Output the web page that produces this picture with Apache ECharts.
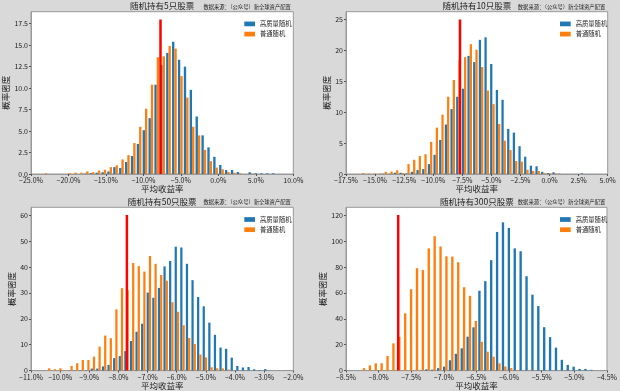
<!DOCTYPE html>
<html><head><meta charset="utf-8">
<script src="https://cdn.jsdelivr.net/npm/echarts@6/dist/echarts.min.js"></script>
<style>html,body{margin:0;padding:0;background:#d9d9d9}#c{width:620px;height:391px}</style>
</head><body><div id="c"></div><script>
// ---- data ----
const seriesNames = ['高质量随机', '普通随机'];
const titles = ['随机持有5只股票', '随机持有10只股票', '随机持有50只股票', '随机持有300只股票'];
const sourceText = '数据来源：（公众号）新全球资产配置';
const xLabel = '平均收益率';
const yLabel = '概率密度';

// histogram bins (percent): start of first bin and bin width, 40 bins each
const binStarts = [-23.53, -16.36, -10.509, -8.2876];
const binWidths = [0.785, 0.487, 0.1921, 0.09027];

const p1Blue = [0,0,0,0,0,0,0,0.05,0.1,0.15,0.2,0.3,0.8,0.7,1.4,2.1,3.5,5.1,6.5,10.4,12.7,14.1,15.4,13.3,12.5,9.8,6.7,4.5,3.1,2.0,1.05,0.46,0.46,0.23,0,0.2,0.08,0.08,0.08,0.08];
const p1Orange = [0.08,0,0,0,0.1,0.15,0.15,0.3,0.2,0.4,0.5,0.8,1.0,1.7,2.2,3.6,5.5,7.6,10.4,13.6,13.7,14.9,14.6,11.4,8.9,5.5,4.5,2.8,1.5,0.75,0.55,0.23,0.15,0.08,0,0.05,0,0,0,0];

const p2Blue = [0,0,0,0,0.05,0.05,0.2,0.2,0.1,0.35,0.65,0.8,1.6,3.1,5.5,8.0,10.5,12.5,13.8,19.1,18.1,21.7,22.1,17.8,13.6,12.0,7.3,6.7,4.5,2.8,1.35,1.25,0.35,0.15,0.27,0.05,0,0,0,0.1];
const p2Orange = [0.16,0.08,0.08,0.08,0.35,0.4,0.6,0.15,1.6,2.3,2.9,3.2,5.2,7.5,9.6,12.5,15.2,18.4,18.9,21.0,20.1,17.3,13.5,11.3,8.1,5.4,3.9,2.1,2.0,0.7,0.5,0.5,0.15,0.1,0.1,0,0,0,0,0];

const p3Blue = [0,0,0,0,0.1,0.1,0.2,0.2,0.8,0.8,1.6,2.2,4.8,5.6,7.5,11.4,15.0,18.1,30.1,28.1,31.9,40.2,42.3,47.8,47.5,41.2,34.9,28.4,24.8,18.5,13.8,8.9,8.4,5.0,1.8,1.2,1.4,0.5,0.2,0.6];
const p3Orange = [0.9,0.5,0.9,0.2,1.8,2.85,4.1,4.1,5.4,9.25,13.5,12.5,23.6,31.8,31.0,41.5,40.3,38.2,44.2,41.2,36.9,34.7,26.4,22.7,17.5,12.6,10.3,6.2,5.1,1.3,0.9,0.85,0.4,0,0,0,0,0,0,0];

const p4Blue = [0,0,0,0,0,0,0,0,0,0,0,1.0,0.8,1.9,3.1,8.0,13.0,17.2,26.2,33.4,61.6,69.0,85.2,107.0,114.4,110.1,94.3,92.1,72.8,58.6,49.8,33.5,25.8,17.7,8.3,4.4,3.0,1.3,1.3,0.6];
const p4Orange = [1.9,4.0,5.6,5.7,11.3,21.0,26.0,44.2,62.8,79.0,77.6,94.3,103.7,95.8,88.2,88.0,83.6,64.3,57.7,38.3,22.2,14.6,10.7,5.6,3.2,1.9,0.45,0,0.5,0,0,0,0,0,0,0,0,0,0,0];

const blueData = [p1Blue, p2Blue, p3Blue, p4Blue];
const orangeData = [p1Orange, p2Orange, p3Orange, p4Orange];

// red marker line (percent) and its height
const redX = [-7.72, -7.70, -7.71, -7.70];
const redH = [18, 25, 60, 120];

// axis ticks
const xTicks = [
  [-25,-20,-15,-10,-5,0,5,10],
  [-17.5,-15,-12.5,-10,-7.5,-5,-2.5,0,2.5,5],
  [-11,-10,-9,-8,-7,-6,-5,-4,-3,-2],
  [-8.5,-8,-7.5,-7,-6.5,-6,-5.5,-5,-4.5]
];
const yTicks = [
  [0,2.5,5,7.5,10,12.5,15,17.5],
  [0,5,10,15,20,25],
  [0,10,20,30,40,50,60],
  [0,20,40,60,80,100,120]
];
const yDecimals = [1,0,0,0];
const yMax = [18.9, 26.25, 63, 126];

// ---- layout ----
const FONT = '"Noto Sans CJK SC", "Noto Sans", sans-serif';
const BLUE = '#1f77b4', ORANGE = '#ff7f0e', RED = '#ff0000';
const grids = [
  {left:31, top:11.7, width:262.3, height:162.3},
  {left:346, top:11.7, width:261.7, height:162.3},
  {left:31, top:207.3, width:262.3, height:163.4},
  {left:346, top:207.3, width:261.7, height:163.4}
];
const yNameGaps = [20, 13, 13, 16.5];

function fmtX(v){ return (v < 0 ? '\u2212' : '') + Math.abs(v).toFixed(1) + '%'; }

function barSeries(gi, values, slot, color, name){
  const bs = binStarts[gi], bw = binWidths[gi];
  return {
    type:'custom', name, xAxisIndex:gi, yAxisIndex:gi, animation:false,
    itemStyle:{color},
    encode:{x:0, y:1},
    data: values.map((v,k)=>[bs + k*bw, v]),
    renderItem: (params, api) => {
      const x0 = api.value(0), v = api.value(1);
      const l = x0 + bw*(0.1 + 0.4*slot), r = l + bw*0.4;
      const a = api.coord([l, v]), b = api.coord([r, 0]);
      return {type:'rect', shape:{x:a[0], y:a[1], width:b[0]-a[0], height:b[1]-a[1]}, style:{fill:color}};
    }
  };
}

const option = {
  backgroundColor:'#d9d9d9',
  animation:false,
  textStyle:{fontFamily:FONT},
  grid: grids.map(g => Object.assign({show:true, backgroundColor:'#fff', borderColor:'#999', borderWidth:1}, g)),
  xAxis: grids.map((g,i)=>({
    type:'value', gridIndex:i, min:xTicks[i][0], max:xTicks[i][xTicks[i].length-1],
    interval: xTicks[i][1]-xTicks[i][0],
    axisLine:{show:true, onZero:false, lineStyle:{color:'#999'}},
    axisTick:{show:true, length:2, customValues:xTicks[i], lineStyle:{color:'#555'}},
    axisLabel:{customValues:xTicks[i], formatter:fmtX, fontSize:7, color:'#222', margin:3, fontFamily:FONT},
    splitLine:{show:false},
    name:xLabel, nameLocation:'middle', nameGap:10,
    nameTextStyle:{fontSize:8.5, color:'#222', fontFamily:FONT}
  })),
  yAxis: grids.map((g,i)=>({
    type:'value', gridIndex:i, min:0, max:yMax[i],
    axisLine:{show:true, onZero:false, lineStyle:{color:'#999'}},
    axisTick:{show:true, length:2, customValues:yTicks[i], lineStyle:{color:'#555'}},
    axisLabel:{customValues:yTicks[i], formatter:v=>v.toFixed(yDecimals[i]), fontSize:7, color:'#222', margin:3, fontFamily:FONT},
    splitLine:{show:false},
    name:yLabel, nameLocation:'middle', nameRotate:90, nameGap:yNameGaps[i],
    nameTextStyle:{fontSize:8.5, color:'#222', fontFamily:FONT}
  })),
  legend: grids.map((g,i)=>({
    data:seriesNames, orient:'vertical', left: g.left + (i%2===0 ? 208.3 : 209), top: g.top + 3.2,
    icon:'rect', itemWidth:10.7, itemHeight:4.7, itemGap:2.2,
    textStyle:{fontSize:6.3, color:'#222', lineHeight:8, fontFamily:FONT},
    selectedMode:false
  })),
  graphic: [],
  series: []
};

grids.forEach((g,i)=>{
  option.series.push(barSeries(i, blueData[i], 0, BLUE, seriesNames[0]));
  option.series.push(barSeries(i, orangeData[i], 1, ORANGE, seriesNames[1]));
  option.series.push({
    type:'line', xAxisIndex:i, yAxisIndex:i, z:5, silent:true, animation:false,
    symbol:'none', showSymbol:false,
    lineStyle:{color:RED, width:2.5},
    data:[[redX[i],0],[redX[i],redH[i]]]
  });
  option.graphic.push({
    type:'text', x: g.left + g.width/2, y: g.top - 5.8,
    style:{text:titles[i], textAlign:'center', textVerticalAlign:'middle', fontSize:8.5, fill:'#222', fontFamily:FONT}
  });
  option.graphic.push({
    type:'text', x: g.left + g.width - 2.5, y: g.top - 5,
    style:{text:sourceText, textAlign:'right', textVerticalAlign:'middle', fontSize:5.3, fill:'#222', fontFamily:FONT}
  });
});

const chart = echarts.init(document.getElementById('c'), null, {renderer:'canvas'});
chart.setOption(option);
</script></body></html>
